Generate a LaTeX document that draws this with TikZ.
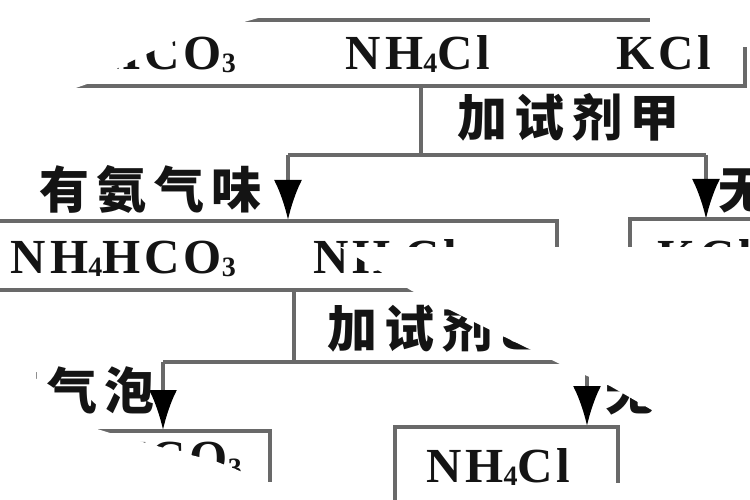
\documentclass[tikz,border=0pt]{standalone}
\usepackage{fontspec}
\setmainfont{Liberation Serif}[LetterSpace=8]
\newfontfamily\cjk{Noto Sans CJK SC}[LetterSpace=15]
\usepackage{tikz}
\usetikzlibrary{arrows.meta}
\usetikzlibrary{positioning}
\definecolor{linegray}{RGB}{105,105,105}
\definecolor{inkblack}{RGB}{20,20,20}
\newcommand{\chemsub}[1]{\raisebox{-3pt}{\fontsize{28}{28}\selectfont #1}}

\begin{document}
\begin{tikzpicture}
	[x=1pt, y=-1pt,
	> = {Latex[length=40pt,width=28pt,color=black]},
	rule/.style = {line width=3.5pt, draw=linegray},
	chem/.style = {inner sep=0pt, text=inkblack, font=\fontsize{49}{49}\selectfont\bfseries},
	word/.style = {inner sep=0pt, text=inkblack, font=\fontsize{50}{50}\selectfont\cjk\bfseries},
	cover/.style = {fill=white, draw=none}
	]
	\useasboundingbox (0,0) rectangle (750,500);
	\clip (0,0) rectangle (750,500);

	% corner points of the lines
	\coordinate (topl) at (-5,20);
	\coordinate (topr) at (650,20);
	\coordinate (boxa sw) at (-5,86);
	\coordinate (boxa se) at (745,86);
	\coordinate (boxa ne) at (745,47);
	\coordinate (forka) at (421,86);
	\coordinate (splita) at (421,155);
	\coordinate (lefta) at (288,155);
	\coordinate (righta) at (706,155);
	\coordinate (hita) at (288,220);
	\coordinate (hitb) at (706,219);
	\coordinate (boxb nw) at (-5,221);
	\coordinate (boxb ne) at (557,221);
	\coordinate (boxb se) at (557,290);
	\coordinate (boxb sw) at (-5,290);
	\coordinate (boxc sw) at (630,290);
	\coordinate (boxc nw) at (630,219);
	\coordinate (boxc ne) at (760,219);
	\coordinate (forkb) at (294,290);
	\coordinate (splitb) at (294,362);
	\coordinate (leftb) at (163,362);
	\coordinate (rightb) at (587,362);
	\coordinate (hitc) at (163,430);
	\coordinate (hitd) at (587,426);
	\coordinate (boxd nw) at (60,431);
	\coordinate (boxd ne) at (270,431);
	\coordinate (boxd se) at (270,482);
	\coordinate (boxe sw) at (395,505);
	\coordinate (boxe nw) at (395,427);
	\coordinate (boxe ne) at (618,427);
	\coordinate (boxe se) at (618,483);

	% first row
	\node[chem, anchor=base east] (mixa) at (236,70) {NH\chemsub{4}HCO\chemsub{3}};
	\node[chem, anchor=base] (mixb) at (418,70) {NH\chemsub{4}Cl};
	\node[chem, anchor=base] (mixc) at (664,70) {KCl};
	\draw[rule] (topl) -- (topr);
	\draw[rule] (boxa sw) -- (boxa se) -- (boxa ne);

	% test A
	\draw[rule] (forka) -- (splita);
	\node[word, anchor=base west] (testa) at (457,137) {加试剂甲};
	\draw[rule] (lefta) -- (righta);
	\draw[rule, ->] (lefta) -- (hita);
	\draw[rule, ->] (righta) -- (hitb);
	\node[word, anchor=base east] (smella) at (262,208) {有氨气味};
	\node[word, anchor=base west] (smellb) at (718,208) {无氨气味};

	% second row
	\draw[rule] (boxb nw) -- (boxb ne) -- (boxb se) -- (boxb sw);
	\draw[rule] (boxc sw) -- (boxc nw) -- (boxc ne);
	\node[chem, anchor=base east] (sorta) at (236,273) {NH\chemsub{4}HCO\chemsub{3}};
	\node[chem, anchor=base west] (sortb) at (313,273) {NH\chemsub{4}Cl};
	\node[chem, anchor=base west] (sortc) at (657,273) {KCl};

	% test B
	\draw[rule] (forkb) -- (splitb);
	\node[word, anchor=base west] (testb) at (327,347) {加试剂乙};
	\draw[rule] (leftb) -- (rightb);
	\draw[rule, ->] (leftb) -- (hitc);
	\draw[rule, ->] (rightb) -- (hitd);
	\node[word, anchor=base east] (bubblea) at (155,409) {有气泡};
	\node[word, anchor=base west] (bubbleb) at (605,410) {无气泡};

	% last row
	\draw[rule] (boxd nw) -- (boxd ne) -- (boxd se);
	\draw[rule] (boxe sw) -- (boxe nw) -- (boxe ne) -- (boxe se);
	\node[chem, anchor=base east] (resa) at (242,474) {NH\chemsub{4}HCO\chemsub{3}};
	\node[chem, anchor=base west] (resb) at (426,482) {NH\chemsub{4}Cl};

	% torn-off parts of the scan
	\fill[cover] (-5,-5) -- (262,-5) -- (262,17) -- (172,42) -- (140,57) -- (118,68) -- (110,76) -- (70,90) -- (-5,90) -- cycle;
	\fill[cover] (340,247) -- (760,247) -- (760,472) -- (610,386) -- (560,364) -- (517,343) -- (470,320) -- (412,291) -- cycle;
	\fill[cover] (-5,355) -- (36,355) -- (36,410) -- (110,433) -- (175,451) -- (215,461) -- (272,484) -- (280,505) -- (-5,505) -- cycle;
\end{tikzpicture}
\end{document}
